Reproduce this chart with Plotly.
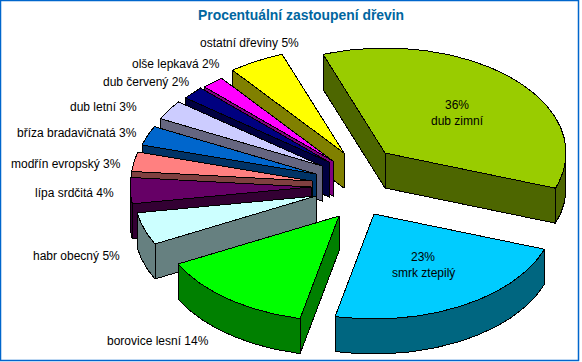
import math
import plotly.graph_objects as go

# Data
species = ["dub zimní", "smrk ztepilý", "borovice lesní", "habr obecný", "lípa srdčitá",
           "modřín evropský", "bříza bradavičnatá", "dub letní", "dub červený", "olše lepkavá",
           "ostatní dřeviny"]
values = [36, 23, 14, 5, 4, 3, 3, 3, 2, 2, 5]
title = "Procentuální zastoupení dřevin"

# Styles
top_colors = ["#99CC00", "#00CCFF", "#00FF00", "#CCFFFF", "#660066", "#FF8080",
              "#0066CC", "#CCCCFF", "#000080", "#FF00FF", "#FFFF00"]
wall_colors = ["#4D6600", "#006680", "#008000", "#668080", "#330033", "#804040",
               "#003366", "#666680", "#000040", "#800080", "#808000"]
# Per-slice explosion of the pie, pixels
explode_dx = [27, 16, -19, -42, -47, -46, -42, -36, -29, -25, -14]
explode_dy = [-27, 34, 36, 16, 7, 1, -6, -14, -18, -19, -27]
label_xy = [None, None, (157.5, 341), (76.5, 256), (74, 193), (66, 164), (76.5, 133),
            (103.5, 107), (145.5, 82), (175.5, 64), (249.5, 43)]
inside_xy = {0: (457, 105, 121), 1: (423, 257, 273)}

CX, CY = 358, 180      # pie centre
RX, RY = 181, 105      # ellipse radii
DEPTH = 35
START = -20.0          # first slice angle, degrees from 12 o'clock

fig = go.Figure()


def rim(ax, ay, t):
    r = math.radians(t)
    return ax + RX * math.sin(r), ay - RY * math.cos(r)


def poly(pts, color):
    xs = [p[0] for p in pts] + [pts[0][0]]
    ys = [p[1] for p in pts] + [pts[0][1]]
    fig.add_trace(go.Scatter(x=xs, y=ys, mode="lines", fill="toself", fillcolor=color,
                             line=dict(color="black", width=1), hoverinfo="skip",
                             showlegend=False))


# slice angles from values
total = sum(values)
angles = []
t = START
for v in values:
    angles.append((t, t + v / total * 360))
    t += v / total * 360

# painter's order: back slices first (end of the list round to habr), then the big ones
order = [10, 9, 8, 7, 6, 5, 4, 3, 2, 0, 1]
for i in order:
    t0, t1 = angles[i]
    ax, ay = CX + explode_dx[i], CY + explode_dy[i]
    n = max(4, int(t1 - t0))
    arc = [rim(ax, ay, t0 + (t1 - t0) * k / n) for k in range(n + 1)]
    outline = [(ax, ay)] + arc
    # walls: an edge of the clockwise outline faces the viewer when it runs leftwards
    for a, b in [((ax, ay), arc[0]), (arc[-1], (ax, ay))]:
        if b[0] < a[0]:
            poly([a, b, (b[0], b[1] + DEPTH), (a[0], a[1] + DEPTH)], wall_colors[i])
    vis = [p for k, p in enumerate(arc)
           if 90 <= ((t0 + (t1 - t0) * k / n) % 360) <= 270]
    if len(vis) > 1:
        poly(vis + [(p[0], p[1] + DEPTH) for p in reversed(vis)], wall_colors[i])
    poly(outline, top_colors[i])

FONT = dict(family="Liberation Sans, Arial, sans-serif", size=12, color="black")
ann = [dict(x=300.5, y=15, text="<b>%s</b>" % title, showarrow=False,
            font=dict(family="Liberation Sans, Arial, sans-serif", size=13.9, color="#0066A0"))]
for i, name in enumerate(species):
    if i in inside_xy:
        x, y1, y2 = inside_xy[i]
        ann.append(dict(x=x, y=y1, text="%d%%" % values[i], showarrow=False, font=FONT))
        ann.append(dict(x=x, y=y2, text=name, showarrow=False, font=FONT))
    else:
        x, y = label_xy[i]
        ann.append(dict(x=x, y=y, text="%s %d%%" % (name, values[i]), showarrow=False, font=FONT))

fig.update_layout(
    width=582, height=362, margin=dict(l=0, r=0, t=0, b=0),
    paper_bgcolor="white", plot_bgcolor="white", showlegend=False,
    xaxis=dict(range=[0, 582], visible=False, fixedrange=True),
    yaxis=dict(range=[362, 0], visible=False, fixedrange=True),
    annotations=ann,
    shapes=[dict(type="rect", xref="x", yref="y", x0=0.5, y0=0.5, x1=578.5, y1=360.5,
                 line=dict(color="#0066CC", width=1.5), layer="above")],
)
post = ("document.body.style.margin='0';document.body.style.overflow='hidden';"
        "var s=document.createElement('style');"
        "s.textContent='.scatterlayer path{shape-rendering:crispEdges}';"
        "document.head.appendChild(s);")
fig.write_html("out.html", post_script=post, config=dict(displayModeBar=False))
